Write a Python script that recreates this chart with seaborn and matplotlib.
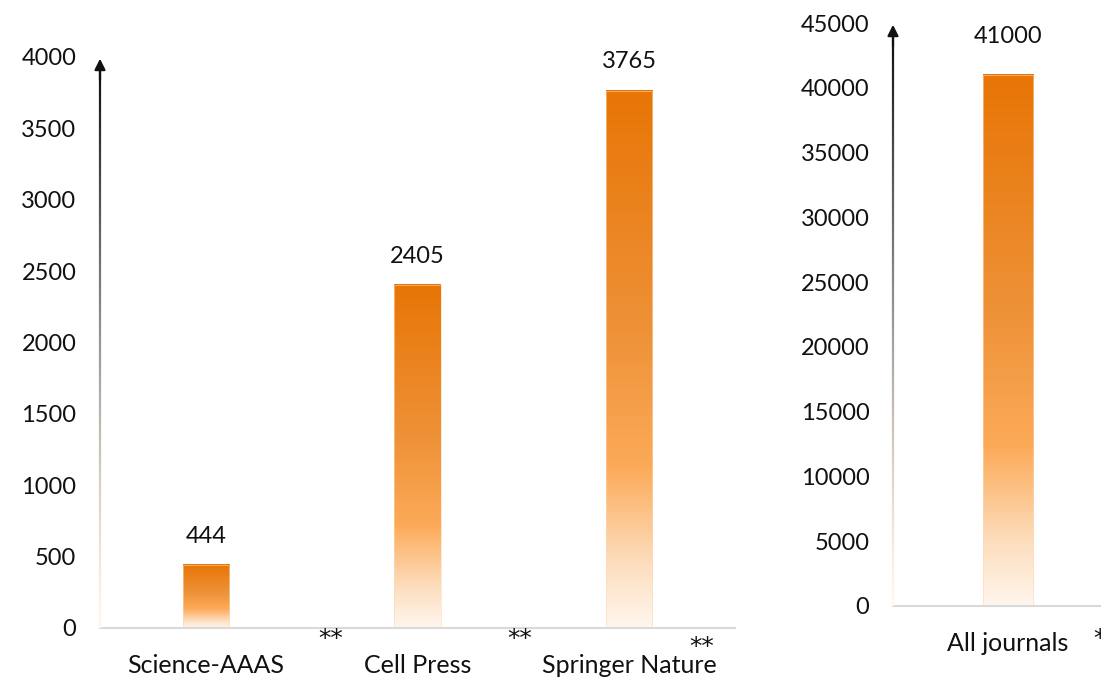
import numpy as np
import pandas as pd
import matplotlib
matplotlib.use("Agg")
import matplotlib.pyplot as plt
from matplotlib.colors import LinearSegmentedColormap
from matplotlib.collections import LineCollection
import seaborn as sns

# ---- data ----
left_categories = ["Science-AAAS", "Cell Press", "Springer Nature"]
left_values = [444, 2405, 3765]
right_categories = ["All journals"]
right_values = [41000]
left_yticks = [0, 500, 1000, 1500, 2000, 2500, 3000, 3500, 4000]
right_yticks = [0, 5000, 10000, 15000, 20000, 25000, 30000, 35000, 40000, 45000]

sns.set_theme(style="white")
plt.rcParams["font.family"] = ["Lato", "DejaVu Sans"]

FS = 17
fig = plt.figure(figsize=(11.01, 6.78), dpi=100)
ax1 = fig.add_axes([100 / 1101, 50 / 678, 635 / 1101, 571 / 678])
ax2 = fig.add_axes([893 / 1101, 72 / 678, 230 / 1101, 583 / 678])

grad_cmap = LinearSegmentedColormap.from_list(
    "orangefade",
    [(0.0, "#FFF6EE"), (0.12, "#FDDDBD"), (0.30, "#FCAA58"),
     (0.55, "#EE9238"), (1.0, "#E87506")])
grad = np.linspace(0, 1, 256).reshape(-1, 1)


def draw(ax, cats, vals, ylim, yticks, label_offset):
    df = pd.DataFrame({"cat": cats, "val": vals})
    sns.barplot(data=df, x="cat", y="val", ax=ax, width=0.22,
                color="#E87506", saturation=1)
    for p in ax.patches:
        x0, y0 = p.get_x(), p.get_y()
        w, h = p.get_width(), p.get_height()
        ax.imshow(grad, extent=[x0, x0 + w, y0, y0 + h], origin="lower",
                  aspect="auto", cmap=grad_cmap, zorder=2)
        p.set_facecolor("none")
        p.set_edgecolor("#FCD9B8")
        p.set_linewidth(0.4)
        p.set_zorder(3)
    for i, v in enumerate(vals):
        ax.annotate(f"{v}", xy=(i, v), xytext=(0, label_offset),
                    textcoords="offset points", ha="center", va="bottom",
                    fontsize=FS, color="#111111")
    ax.set_xlim(-0.5, len(cats) - 0.5)
    ax.set_ylim(*ylim)
    ax.set_yticks(yticks)
    ax.set_yticklabels([str(t) for t in yticks])
    ax.set_xlabel("")
    ax.set_ylabel("")
    ax.tick_params(axis="both", length=0, labelsize=FS, colors="#111111")
    ax.tick_params(axis="x", pad=19, labelsize=18)
    ax.tick_params(axis="y", pad=17)
    for s in ["top", "right", "left"]:
        ax.spines[s].set_visible(False)
    ax.spines["bottom"].set_color("#D9D9D9")
    ax.spines["bottom"].set_linewidth(1.5)
    ax.grid(False)
    # fading arrow axis
    n = 200
    ys = np.linspace(0, 0.985, n + 1)
    segs = [[(0, ys[k]), (0, ys[k + 1])] for k in range(n)]
    top = np.array([0.05, 0.05, 0.05])
    bot = np.array([1.0, 0.965, 0.93])
    t = np.linspace(0, 1, n) ** 1.3
    cols = [tuple(bot + (top - bot) * tt) for tt in t]
    lc = LineCollection(segs, colors=cols, linewidths=1.6,
                        transform=ax.transAxes, clip_on=False, zorder=4)
    ax.add_collection(lc)
    ax.annotate("", xy=(0, 0.997), xytext=(0, 0.96), xycoords="axes fraction",
                textcoords="axes fraction",
                arrowprops=dict(arrowstyle="-|>", color="#111111", lw=1.6,
                                mutation_scale=16, shrinkA=0, shrinkB=0),
                zorder=5)


draw(ax1, left_categories, left_values, (0, 4000), left_yticks, 13)
draw(ax2, right_categories, right_values, (0, 45000), right_yticks, 20)

# significance markers
star_font = dict(family="DejaVu Sans", size=18, color="#111111")
for xpos, dy in [(0.591, -13), (1.484, -13), (2.344, -19)]:
    ax1.annotate("**", xy=(xpos, 0), xytext=(0, dy), textcoords="offset points",
                 ha="center", va="baseline", annotation_clip=False, **star_font)
ax2.annotate("*", xy=(0.400, 0), xytext=(0, -29), textcoords="offset points",
             ha="center", va="baseline", annotation_clip=False, **star_font)

fig.savefig("out.png", dpi=100)
